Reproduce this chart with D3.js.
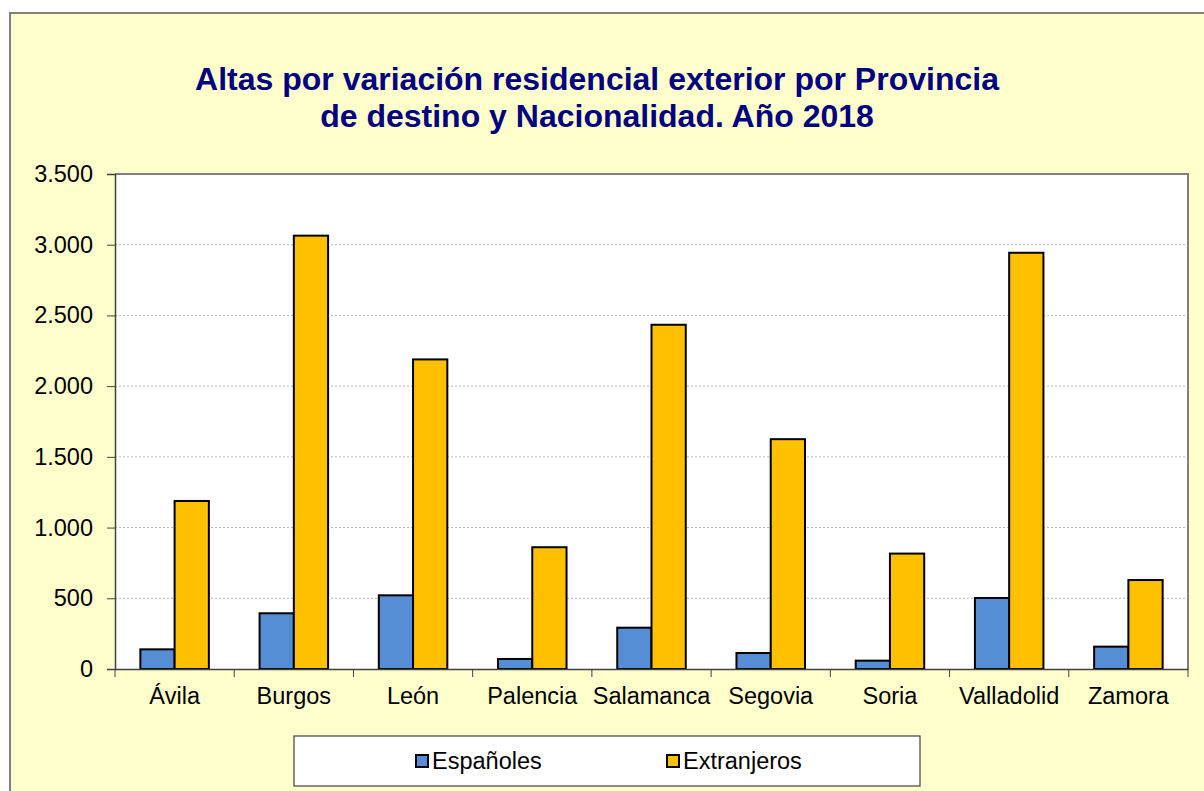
<!DOCTYPE html>
<html>
<head>
<meta charset="utf-8">
<script src="https://cdn.jsdelivr.net/npm/d3@7"></script>
<style>
  body { margin: 0; background: #fff; }
  svg { display: block; font-family: Arial, "Liberation Sans", sans-serif; }
</style>
</head>
<body>
<svg id="chart"></svg>
<script>
// data
const provincias = ['Ávila', 'Burgos', 'León', 'Palencia', 'Salamanca', 'Segovia', 'Soria', 'Valladolid', 'Zamora']
const espanoles = [139, 394, 521, 71, 292, 113, 59, 502, 158]
const extranjeros = [1188, 3064, 2189, 861, 2434, 1625, 816, 2943, 629]
const series = ['Españoles', 'Extranjeros']
const yTicks = [0, 500, 1000, 1500, 2000, 2500, 3000, 3500]
const titleLines = ['Altas por variación residencial exterior por Provincia', 'de destino y Nacionalidad. Año 2018']

const width = 1204
const height = 791
const plot = {left: 115, right: 1188, top: 174, bottom: 669}
const colors = {'Españoles': '#558ED5', 'Extranjeros': '#FFC000'}
const labelFont = '23.5px'

const svg = d3.select('#chart').attr('width', width).attr('height', height)

// chart area background + border
svg.append('rect')
    .attr('x', 10).attr('y', 13)
    .attr('width', width + 20).attr('height', height + 20)
    .attr('fill', '#FFFFCC')
    .attr('stroke', '#808080')
    .attr('stroke-width', 2)

// title
svg.append('text')
    .attr('text-anchor', 'middle')
    .attr('fill', '#000080')
    .style('font-size', '32px')
    .style('font-weight', 'bold')
    .selectAll('tspan')
    .data(titleLines)
    .enter()
    .append('tspan')
    .attr('x', 597)
    .attr('y', (d, i) => 90 + i * 37)
    .text(d => d)

// scales
const xScale = d3.scaleBand()
    .domain(provincias)
    .range([plot.left, plot.right])
    .padding(0)

const xSub = d3.scaleBand()
    .domain(series)
    .range([0, xScale.bandwidth()])
    .paddingInner(0)
    .paddingOuter(0.74)

const yScale = d3.scaleLinear()
    .domain([0, 3500])
    .range([plot.bottom, plot.top])

const fmt = d3.formatLocale({decimal: ',', thousands: '.', grouping: [3], currency: ['', '€']}).format(',')

// plot area
svg.append('rect')
    .attr('x', plot.left).attr('y', plot.top)
    .attr('width', plot.right - plot.left).attr('height', plot.bottom - plot.top)
    .attr('fill', '#fff')

// gridlines
svg.append('g')
    .selectAll('line')
    .data(yTicks.filter(d => d > 0 && d < 3500))
    .enter()
    .append('line')
    .attr('x1', plot.left).attr('x2', plot.right)
    .attr('y1', d => yScale(d)).attr('y2', d => yScale(d))
    .attr('stroke', '#B8B8B8')
    .attr('stroke-dasharray', '2,2')

// top & right frame
svg.append('path')
    .attr('d', `M${plot.left},${plot.top}H${plot.right}V${plot.bottom}`)
    .attr('fill', 'none')
    .attr('stroke', '#808080')
    .attr('stroke-width', 2)

// bars
const rows = provincias.map((p, i) => ({provincia: p, values: [
    {serie: series[0], value: espanoles[i]},
    {serie: series[1], value: extranjeros[i]}
]}))

svg.append('g')
    .selectAll('g')
    .data(rows)
    .enter()
    .append('g')
    .attr('transform', d => `translate(${xScale(d.provincia)},0)`)
    .selectAll('rect')
    .data(d => d.values)
    .enter()
    .append('rect')
    .attr('x', d => xSub(d.serie))
    .attr('y', d => yScale(d.value))
    .attr('width', xSub.bandwidth())
    .attr('height', d => yScale(0) - yScale(d.value))
    .attr('fill', d => colors[d.serie])
    .attr('stroke', '#000')
    .attr('stroke-width', 2)

// axes
const yAxis = d3.axisLeft(yScale).tickValues(yTicks).tickSize(8).tickPadding(14).tickFormat(fmt)
const gy = svg.append('g')
    .attr('transform', `translate(${plot.left},0)`)
    .call(yAxis)
gy.select('.domain').attr('stroke', '#404040').attr('stroke-width', 1.5)
gy.selectAll('.tick line').attr('stroke', '#404040')
gy.selectAll('.tick text').attr('fill', '#000').style('font-size', labelFont).style('font-family', 'Arial, "Liberation Sans", sans-serif')

const gx = svg.append('g')
    .attr('transform', `translate(0,${plot.bottom})`)
    .call(d3.axisBottom(xScale).tickSize(0).tickPadding(18))
gx.select('.domain').attr('stroke', '#404040').attr('stroke-width', 1.5)
gx.selectAll('.tick text').attr('fill', '#000').style('font-size', labelFont).style('font-family', 'Arial, "Liberation Sans", sans-serif')

// category separators below axis
const bounds = provincias.map(p => xScale(p)).concat([plot.right])
svg.append('g')
    .selectAll('line')
    .data(bounds)
    .enter()
    .append('line')
    .attr('x1', d => d).attr('x2', d => d)
    .attr('y1', plot.bottom).attr('y2', plot.bottom + 8)
    .attr('stroke', '#404040')

// legend
svg.append('rect')
    .attr('x', 294).attr('y', 736)
    .attr('width', 626).attr('height', 50)
    .attr('fill', '#fff')
    .attr('stroke', '#404040')
    .attr('stroke-width', 1.2)

const legendX = d3.scaleOrdinal().domain(series).range([416, 667])
const items = svg.append('g')
    .selectAll('g')
    .data(series)
    .enter()
    .append('g')
    .attr('transform', d => `translate(${legendX(d)},761)`)
items.append('rect')
    .attr('x', 0).attr('y', -6)
    .attr('width', 12).attr('height', 12)
    .attr('fill', d => colors[d])
    .attr('stroke', '#000')
    .attr('stroke-width', 2)
items.append('text')
    .attr('x', 16).attr('y', 8)
    .style('font-size', labelFont)
    .text(d => d)
</script>
</body>
</html>
